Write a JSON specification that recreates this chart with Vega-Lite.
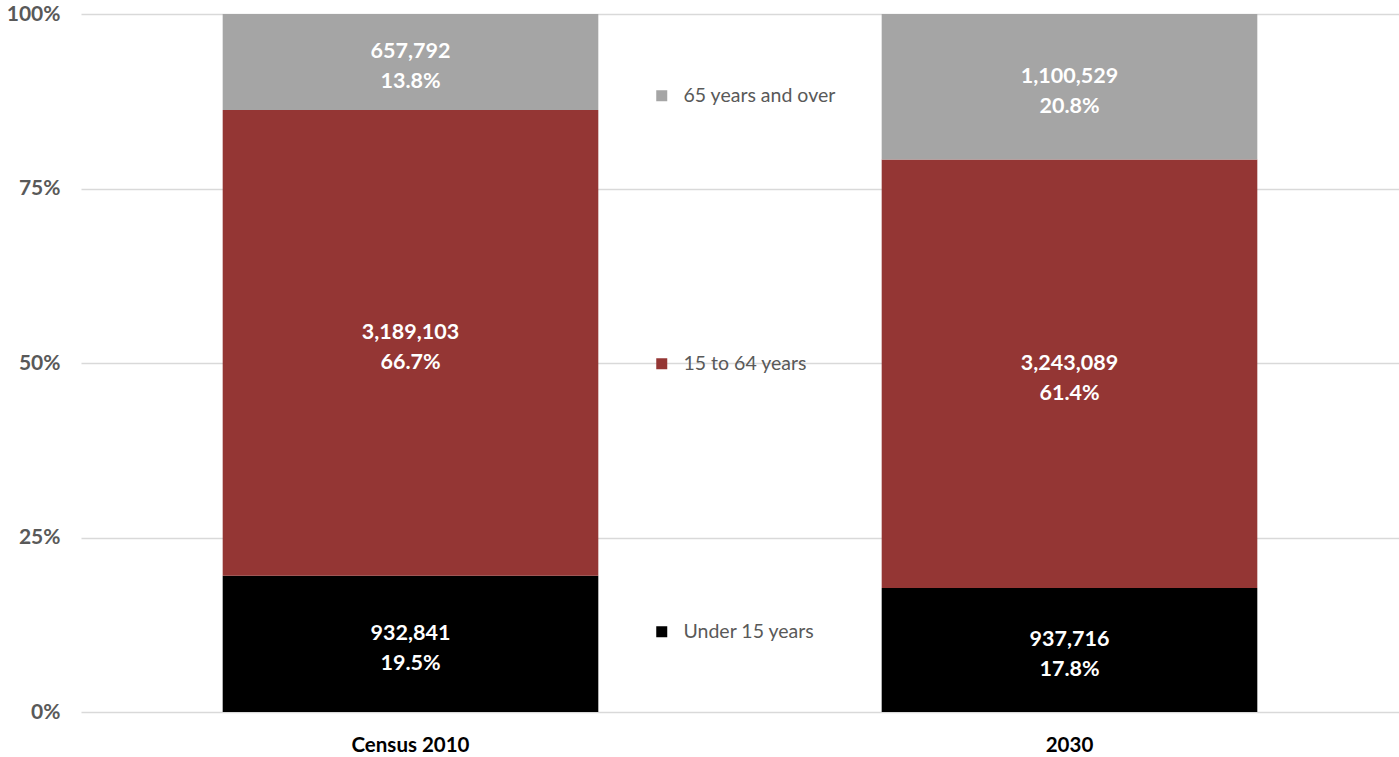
{
  "$schema": "https://vega.github.io/schema/vega-lite/v6.json",
  "width": 1318,
  "height": 698,
  "autosize": {"type": "none"},
  "padding": {"left": 81, "top": 14, "right": 0, "bottom": 45},
  "background": "white",
  "config": {
    "view": {"stroke": null},
    "font": "Lato"
  },
  "data": {
    "values": [
      {"year": "Census 2010", "group": "Under 15 years", "order": 1, "value": 932841, "pct": 0.195},
      {"year": "Census 2010", "group": "15 to 64 years", "order": 2, "value": 3189103, "pct": 0.667},
      {"year": "Census 2010", "group": "65 years and over", "order": 3, "value": 657792, "pct": 0.138},
      {"year": "2030", "group": "Under 15 years", "order": 1, "value": 937716, "pct": 0.178},
      {"year": "2030", "group": "15 to 64 years", "order": 2, "value": 3243089, "pct": 0.614},
      {"year": "2030", "group": "65 years and over", "order": 3, "value": 1100529, "pct": 0.208}
    ]
  },
  "transform": [
    {"stack": "value", "groupby": ["year"], "sort": [{"field": "order"}], "as": ["v0", "v1"], "offset": "normalize"},
    {"calculate": "(datum.v0 + datum.v1) / 2", "as": "mid"}
  ],
  "encoding": {
    "x": {
      "field": "year",
      "type": "nominal",
      "sort": ["Census 2010", "2030"],
      "scale": {"paddingInner": 0.43, "paddingOuter": 0.215},
      "axis": {
        "title": null,
        "labelAngle": 0,
        "labelFont": "Lato",
        "labelFontWeight": "bold",
        "labelFontSize": 20.5,
        "labelColor": "#000000",
        "labelPadding": 23,
        "domain": false,
        "ticks": false
      }
    }
  },
  "layer": [
    {
      "mark": {"type": "bar"},
      "encoding": {
        "y": {
          "field": "v0",
          "type": "quantitative",
          "scale": {"domain": [0, 1]},
          "axis": {
            "title": null,
            "values": [0, 0.25, 0.5, 0.75, 1],
            "format": ".0%",
            "labelFont": "Lato",
            "labelFontWeight": "bold",
            "labelFontSize": 21,
            "labelColor": "#595959",
            "labelPadding": 21,
            "domain": false,
            "ticks": false,
            "grid": true,
            "gridColor": "#d9d9d9",
            "gridWidth": 1.5
          }
        },
        "y2": {"field": "v1"},
        "color": {
          "field": "group",
          "type": "nominal",
          "scale": {
            "domain": ["65 years and over", "15 to 64 years", "Under 15 years"],
            "range": ["#a5a5a5", "#943634", "#000000"]
          },
          "legend": {
            "title": null,
            "orient": "none",
            "legendX": 571,
            "legendY": 72,
            "direction": "vertical",
            "symbolType": "square",
            "symbolSize": 121,
            "symbolStrokeWidth": 0,
            "labelFont": "Lato",
            "labelFontSize": 19.5,
            "labelColor": "#595959",
            "labelOffset": 12,
            "rowPadding": 247
          }
        }
      }
    },
    {
      "mark": {"type": "text", "color": "white", "fontWeight": "bold", "fontSize": 21.5, "font": "Lato", "dy": -10},
      "encoding": {
        "y": {"field": "mid", "type": "quantitative"},
        "text": {"field": "value", "type": "quantitative", "format": ","}
      }
    },
    {
      "mark": {"type": "text", "color": "white", "fontWeight": "bold", "fontSize": 21.5, "font": "Lato", "dy": 20},
      "encoding": {
        "y": {"field": "mid", "type": "quantitative"},
        "text": {"field": "pct", "type": "quantitative", "format": ".1%"}
      }
    }
  ]
}
